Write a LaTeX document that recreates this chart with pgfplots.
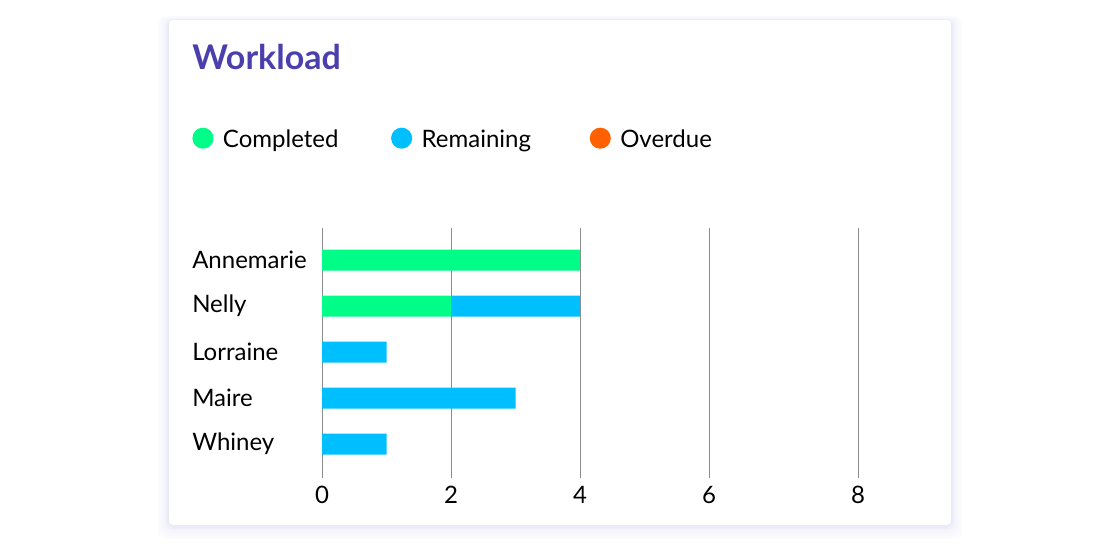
\documentclass[border=0pt]{standalone}
\usepackage{pgfplots}
\pgfplotsset{compat=1.18}
\usepackage{fontspec}
\setmainfont{Lato}
\definecolor{titlec}{HTML}{4B3FAE}
\definecolor{compc}{HTML}{00FD87}
\definecolor{remc}{HTML}{00BFFF}
\definecolor{overc}{HTML}{FF6100}
\definecolor{gridc}{HTML}{8C8C8C}
\definecolor{shadowc}{HTML}{E6E6F6}
\begin{document}
\begin{tikzpicture}[x=0.75pt,y=-0.75pt]
\path (0,0) rectangle (1119,558);
% card shadow
\foreach \d/\o in {14/0.10,11/0.15,8/0.2,5/0.3,3/0.4,1.5/0.5}{
  \fill[shadowc,opacity=\o,rounded corners=6pt] (169-\d*0.8,20-\d*0.3) rectangle (951+\d*0.8,525+\d);
}
\fill[white,rounded corners=3pt] (169,20) rectangle (951,525);
\node[anchor=base west,inner sep=0pt,text=titlec,font=\fontsize{25.5}{30}\selectfont\bfseries] at (192,69) {Workload};
\coordinate (O) at (322,260);
\begin{axis}[
  at={(O)}, anchor=origin,
  x=48.375pt, y=34.5pt,
  y dir=reverse,
  xbar stacked,
  bar width=15.75pt,
  xmin=0, xmax=8.31,
  ymin=-0.7, ymax=4.74,
  xtick={0,2,4,6,8.31},
  xticklabels={0,2,4,6,8},
  ytick={0,1,2,3,4},
  yticklabels={Annemarie,Nelly,Lorraine,Maire,Whiney},
  axis line style={draw=none},
  major tick length=0pt,
  xmajorgrids,
  major grid style={gridc,line width=0.75pt},
  clip=false,
  /pgf/number format/assume math mode=true,
  tick label style={font=\fontsize{18}{22}\selectfont},
  yticklabel style={anchor=west,inner sep=0pt,xshift=-97.5pt},
  xticklabel style={anchor=center,inner sep=0pt,yshift=-12.5pt},
  legend columns=3,
  legend style={draw=none,fill=none,at={(axis description cs:-0.2425,0.8672)},anchor=west,
    font=\fontsize{18}{22}\selectfont,inner sep=0pt,
    column sep=0pt,
    nodes={inner sep=0pt,text width=126pt,align=left,text height=0.75em,text depth=0.25em}},
  legend image code/.code={\fill (7.5pt,4.5pt) circle (7.9pt); \path (-0.5pt,0) (22.5pt,0);},
  legend cell align=left,
]
\addplot+[draw=none,fill=compc] coordinates {(4,0) (2,1) (0,2) (0,3) (0,4)};
\addplot+[draw=none,fill=remc] coordinates {(0,0) (2,1) (1,2) (3,3) (1,4)};
\addplot+[draw=none,fill=overc] coordinates {(0,0) (0,1) (0,2) (0,3) (0,4)};
\legend{Completed,Remaining,Overdue}
\end{axis}
\end{tikzpicture}
\end{document}
